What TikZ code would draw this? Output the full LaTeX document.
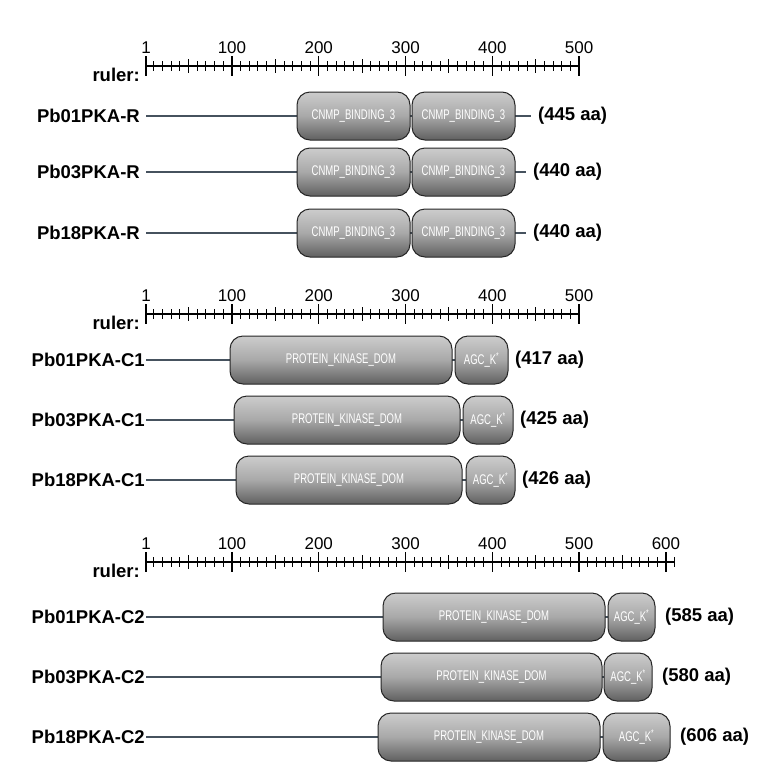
\documentclass[tikz,border=0pt]{standalone}
\usepackage{fontspec}
\setmainfont{Liberation Sans}
\definecolor{slate}{HTML}{46525E}
\begin{document}
\begin{tikzpicture}[x=1pt,y=-1pt,
  lbl/.style={font=\bfseries\fontsize{18.5}{18.5}\selectfont,anchor=east,inner sep=0},
  len/.style={font=\bfseries\fontsize{18.5}{18.5}\selectfont,anchor=west,inner sep=0},
  num/.style={font=\fontsize{17}{17}\selectfont,anchor=south,inner sep=0},
  bb/.style={line width=2.6pt,draw=slate},
  dom/.style={draw=black!85,line width=1pt,rounded corners=13pt,top color=gray!40,bottom color=gray!75!black,middle color=gray!68},
  dtext/.style={font=\fontsize{14}{14}\selectfont,text=white,inner sep=0}]
\useasboundingbox (0,0) rectangle (769,774);
\newcommand{\ruler}[3]{% y, maxaa, labels
  \draw[line width=1.8pt] (146,#1) -- ({146+(#2-1)*0.868},#1);
  \foreach \a in {10,20,...,#2}{\draw[line width=1pt] ({146+(\a-1)*0.868},#1-5) -- ({146+(\a-1)*0.868},#1+5);}
  \foreach \a in {50,150,...,#2}{\draw[line width=1pt] ({146+(\a-1)*0.868},#1-7) -- ({146+(\a-1)*0.868},#1+7);}
  \draw[line width=1.3pt] (146,#1-10) -- (146,#1+10);
  \foreach \a in {100,200,...,#2}{\draw[line width=1.3pt] ({146+(\a-1)*0.868},#1-10) -- ({146+(\a-1)*0.868},#1+10);}
  \node[num] at (146,#1-12) {1};
  \foreach \a in {#3}{\node[num] at ({146+(\a-1)*0.868},#1-12) {\a};}
  \node[lbl] at (140,#1+9) {ruler:};
}
\newcommand{\dombox}[5]{% name,x1,x2,y,text
  \draw[dom] (#2,#4-24) rectangle (#3,#4+24);
  \node[dtext] (#1) at ({(#2+#3)/2},#4) {\scalebox{0.68}[1]{#5}};
}
% R group
\ruler{66}{500}{100,200,300,400,500}
\foreach \i/\nm/\y/\e/\t in {1/Pb01PKA-R/116/531/445,2/Pb03PKA-R/172/526/440,3/Pb18PKA-R/233/526/440}{
  \node[lbl] (n\i) at (140,\y) {\nm};
  \draw[bb] (146,\y) -- (\e,\y);
  \dombox{a\i}{297}{410}{\y}{CNMP\_BINDING\_3}
  \dombox{b\i}{412}{515}{\y}{CNMP\_BINDING\_3}
  \node[len] (l\i) at (\e+7,\y) {(\t\ aa)};
}
% C1 group
\ruler{314}{500}{100,200,300,400,500}
\foreach \i/\nm/\y/\sa/\sb/\ca/\cb/\t in {4/Pb01PKA-C1/360/230/452/455/508/417,5/Pb03PKA-C1/420/234/460/463/513/425,6/Pb18PKA-C1/480/236/462/466/515/426}{
  \node[lbl] (n\i) at (145,\y) {\nm};
  \draw[bb] (146,\y) -- (\cb,\y);
  \dombox{a\i}{\sa}{\sb}{\y}{PROTEIN\_KINASE\_DOM}
  \dombox{b\i}{\ca}{\cb}{\y}{AGC\_K\textsuperscript{*}}
  \node[len] (l\i) at (\cb+7,\y) {(\t\ aa)};
}
% C2 group
\ruler{562}{610}{100,200,300,400,500,600}
\foreach \i/\nm/\y/\sa/\sb/\ca/\cb/\t in {7/Pb01PKA-C2/617/383/605/608/655/585,8/Pb03PKA-C2/677/381/602/604/652/580,9/Pb18PKA-C2/737/378/600/603/670/606}{
  \node[lbl] (n\i) at (145,\y) {\nm};
  \draw[bb] (146,\y) -- (\cb,\y);
  \dombox{a\i}{\sa}{\sb}{\y}{PROTEIN\_KINASE\_DOM}
  \dombox{b\i}{\ca}{\cb}{\y}{AGC\_K\textsuperscript{*}}
  \node[len] (l\i) at (\cb+10,\y) {(\t\ aa)};
}
\end{tikzpicture}
\end{document}
